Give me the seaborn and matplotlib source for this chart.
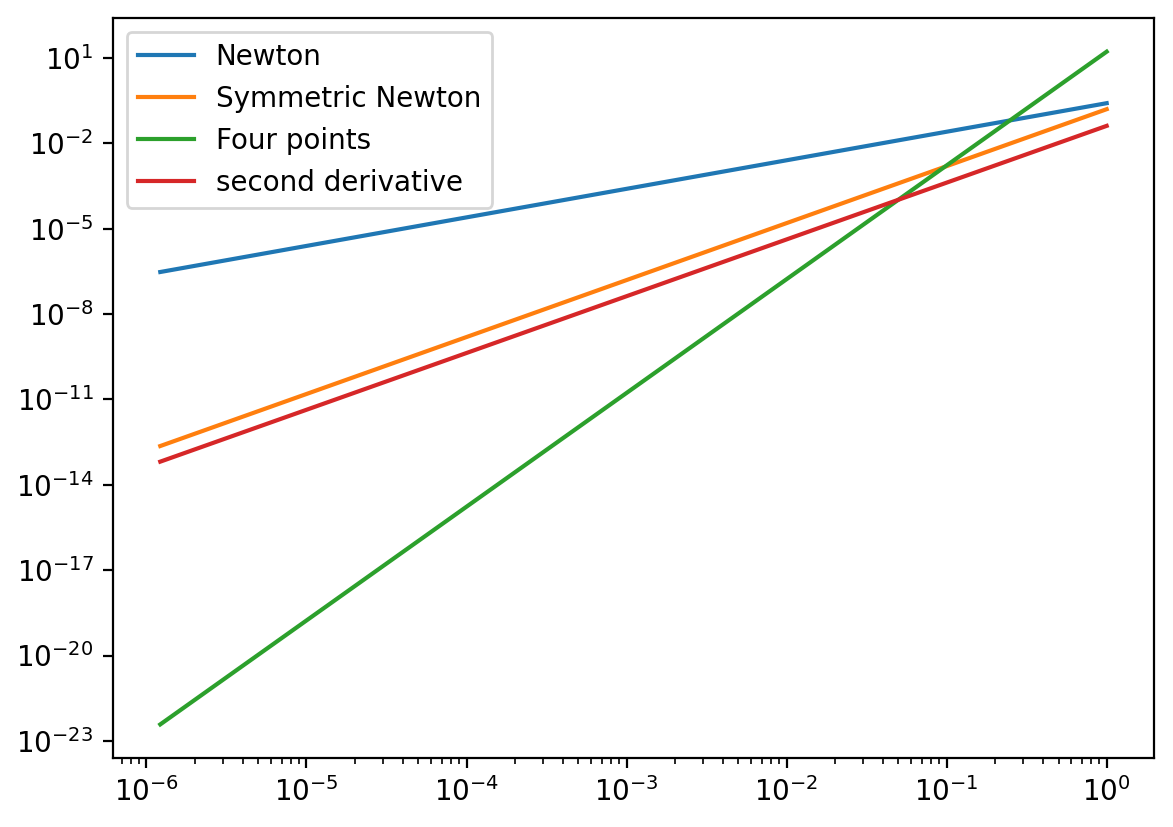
import pandas as pd
import matplotlib.pyplot as plt
import matplotlib.ticker as mticker
import seaborn as sns

# step size h (the curves are straight lines in log-log, endpoints)
h = [1.22e-6, 1.0]
err_newton = [3.0e-7, 0.257]
err_symmetric = [2.3e-13, 0.158]
err_four = [3.8e-23, 16.6]
err_second = [6.5e-14, 0.041]

labels = ['Newton', 'Symmetric Newton', 'Four points', 'second derivative']
series = [err_newton, err_symmetric, err_four, err_second]
ytick_exps = list(range(1, -24, -3))

rows = []
for name, vals in zip(labels, series):
    for x, y in zip(h, vals):
        rows.append({'h': x, 'error': y, 'method': name})
df = pd.DataFrame(rows)

colors = ['#1f77b4', '#ff7f0e', '#2ca02c', '#d62728']

fig, ax = plt.subplots(figsize=(1173 / 200, 827 / 200), dpi=200)
fig.subplots_adjust(left=0.0963, right=0.9838, top=0.9782, bottom=0.0834)

sns.lineplot(data=df, x='h', y='error', hue='method', hue_order=labels,
             palette=colors, linewidth=1.5, ax=ax)

ax.set_xscale('log')
ax.set_yscale('log')
ax.set_yticks([10.0 ** k for k in ytick_exps])
ax.yaxis.set_minor_locator(mticker.NullLocator())
ax.set_xlabel('')
ax.set_ylabel('')
ax.legend(loc='upper left')

plt.savefig('out.png', dpi=200)
